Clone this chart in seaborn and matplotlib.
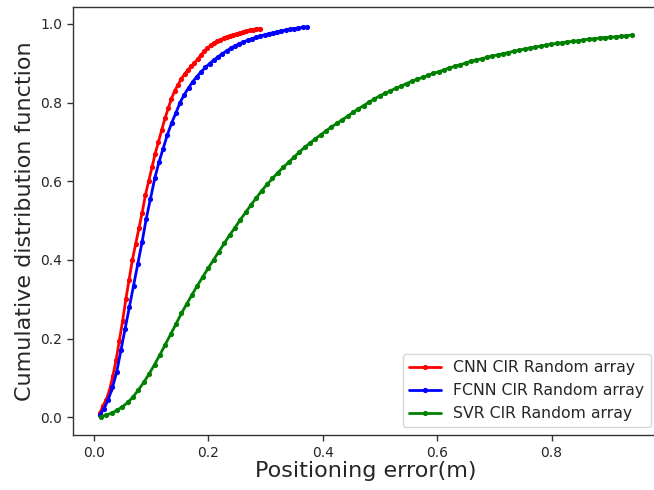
import matplotlib
matplotlib.use("Agg")
import matplotlib.pyplot as plt
import numpy as np
import pandas as pd
import seaborn as sns

# Positioning-error CDFs of three regressors (CIR features, random array)
cnn_err = [0.0100, 0.0157, 0.0214, 0.0271, 0.0328, 0.0385, 0.0442, 0.0499, 0.0556, 0.0613,
           0.0670, 0.0727, 0.0784, 0.0841, 0.0898, 0.0955, 0.1012, 0.1069, 0.1126, 0.1183,
           0.1240, 0.1297, 0.1354, 0.1411, 0.1468, 0.1525, 0.1582, 0.1639, 0.1696, 0.1753,
           0.1810, 0.1867, 0.1924, 0.1981, 0.2038, 0.2095, 0.2152, 0.2209, 0.2266, 0.2323,
           0.2380, 0.2437, 0.2494, 0.2551, 0.2608, 0.2665, 0.2722, 0.2779, 0.2836, 0.2893]
cnn_cdf = [0.010, 0.030, 0.045, 0.070, 0.105, 0.145, 0.195, 0.245, 0.300, 0.350,
           0.400, 0.440, 0.480, 0.520, 0.565, 0.600, 0.635, 0.670, 0.700, 0.730,
           0.760, 0.785, 0.810, 0.830, 0.845, 0.860, 0.872, 0.882, 0.892, 0.900,
           0.910, 0.920, 0.930, 0.938, 0.945, 0.951, 0.955, 0.959, 0.963, 0.967,
           0.970, 0.972, 0.975, 0.977, 0.979, 0.981, 0.983, 0.985, 0.987, 0.988]

fcnn_err = [0.0100, 0.0174, 0.0248, 0.0322, 0.0396, 0.0469, 0.0543, 0.0617, 0.0691, 0.0765,
            0.0839, 0.0913, 0.0987, 0.1061, 0.1134, 0.1208, 0.1282, 0.1356, 0.1430, 0.1504,
            0.1578, 0.1652, 0.1726, 0.1799, 0.1873, 0.1947, 0.2021, 0.2095, 0.2169, 0.2243,
            0.2317, 0.2391, 0.2465, 0.2538, 0.2612, 0.2686, 0.2760, 0.2834, 0.2908, 0.2982,
            0.3056, 0.3130, 0.3203, 0.3277, 0.3351, 0.3425, 0.3499, 0.3573, 0.3647, 0.3721]
fcnn_cdf = [0.006, 0.022, 0.045, 0.076, 0.115, 0.170, 0.225, 0.280, 0.335, 0.390,
            0.445, 0.505, 0.556, 0.607, 0.648, 0.683, 0.718, 0.748, 0.773, 0.800,
            0.820, 0.837, 0.853, 0.866, 0.878, 0.889, 0.899, 0.908, 0.916, 0.924,
            0.931, 0.938, 0.944, 0.949, 0.954, 0.958, 0.962, 0.966, 0.969, 0.972,
            0.975, 0.977, 0.980, 0.982, 0.984, 0.986, 0.988, 0.989, 0.991, 0.992]

svr_err = [0.0120, 0.0214, 0.0307, 0.0401, 0.0495, 0.0589, 0.0682, 0.0776, 0.0870, 0.0964,
           0.1057, 0.1151, 0.1245, 0.1339, 0.1432, 0.1526, 0.1620, 0.1714, 0.1807, 0.1901,
           0.1995, 0.2089, 0.2182, 0.2276, 0.2370, 0.2464, 0.2557, 0.2651, 0.2745, 0.2839,
           0.2932, 0.3026, 0.3120, 0.3214, 0.3307, 0.3401, 0.3495, 0.3589, 0.3682, 0.3776,
           0.3870, 0.3964, 0.4057, 0.4151, 0.4245, 0.4339, 0.4432, 0.4526, 0.4620, 0.4714,
           0.4807, 0.4901, 0.4995, 0.5089, 0.5182, 0.5276, 0.5370, 0.5464, 0.5557, 0.5651,
           0.5745, 0.5839, 0.5932, 0.6026, 0.6120, 0.6214, 0.6307, 0.6401, 0.6495, 0.6589,
           0.6682, 0.6776, 0.6870, 0.6964, 0.7057, 0.7151, 0.7245, 0.7339, 0.7432, 0.7526,
           0.7620, 0.7714, 0.7807, 0.7901, 0.7995, 0.8089, 0.8182, 0.8276, 0.8370, 0.8464,
           0.8557, 0.8651, 0.8745, 0.8839, 0.8932, 0.9026, 0.9120, 0.9214, 0.9307, 0.9401]
svr_cdf = [0.002, 0.006, 0.011, 0.018, 0.027, 0.038, 0.052, 0.070, 0.089, 0.111,
           0.134, 0.159, 0.185, 0.211, 0.237, 0.264, 0.288, 0.312, 0.335, 0.357,
           0.379, 0.400, 0.421, 0.442, 0.463, 0.482, 0.502, 0.521, 0.540, 0.558,
           0.576, 0.592, 0.607, 0.622, 0.635, 0.648, 0.661, 0.674, 0.686, 0.697,
           0.708, 0.718, 0.728, 0.738, 0.747, 0.756, 0.765, 0.775, 0.784, 0.792,
           0.801, 0.809, 0.817, 0.823, 0.830, 0.836, 0.842, 0.848, 0.854, 0.859,
           0.864, 0.869, 0.874, 0.878, 0.883, 0.888, 0.892, 0.896, 0.900, 0.905,
           0.908, 0.911, 0.915, 0.918, 0.921, 0.924, 0.927, 0.930, 0.933, 0.936,
           0.938, 0.941, 0.943, 0.946, 0.948, 0.950, 0.952, 0.954, 0.955, 0.957,
           0.959, 0.961, 0.962, 0.964, 0.965, 0.966, 0.967, 0.968, 0.970, 0.971]

series = [
    ("CNN CIR Random array", cnn_err, cnn_cdf, "red"),
    ("FCNN CIR Random array", fcnn_err, fcnn_cdf, "blue"),
    ("SVR CIR Random array", svr_err, svr_cdf, "green"),
]

sns.set_theme(style="ticks")
plt.rcParams["font.family"] = ["DejaVu Sans"]

fig = plt.figure(figsize=(6.54, 4.90), dpi=100)
# the axes run slightly past the right edge of the canvas
ax = fig.add_axes([0.111, 0.112, 0.896, 0.874])

for name, err, cdf, color in series:
    df = pd.DataFrame({"err": err, "cdf": cdf})
    sns.lineplot(data=df, x="err", y="cdf", ax=ax, color=color, label=name,
                 sort=False, estimator=None, linewidth=2, marker=".",
                 markersize=7.5, markeredgewidth=0)

ax.set_xlim(-0.0375, 0.987)
ax.set_ylim(-0.045, 1.043)
ax.set_xticks([0.0, 0.2, 0.4, 0.6, 0.8])
ax.set_yticks([0.0, 0.2, 0.4, 0.6, 0.8, 1.0])
ax.tick_params(labelsize=10, color="0.2", length=4, width=1)
for sp in ax.spines.values():
    sp.set_color("0.2")
    sp.set_linewidth(1)
ax.set_xlabel("Positioning error(m)", fontsize=16, labelpad=1)
ax.set_ylabel("Cumulative distribution function", fontsize=16)
ax.legend(loc="lower right", fontsize=11.3, frameon=True, fancybox=True,
          edgecolor="0.8", framealpha=0.8)

fig.savefig("out.png", dpi=100)
